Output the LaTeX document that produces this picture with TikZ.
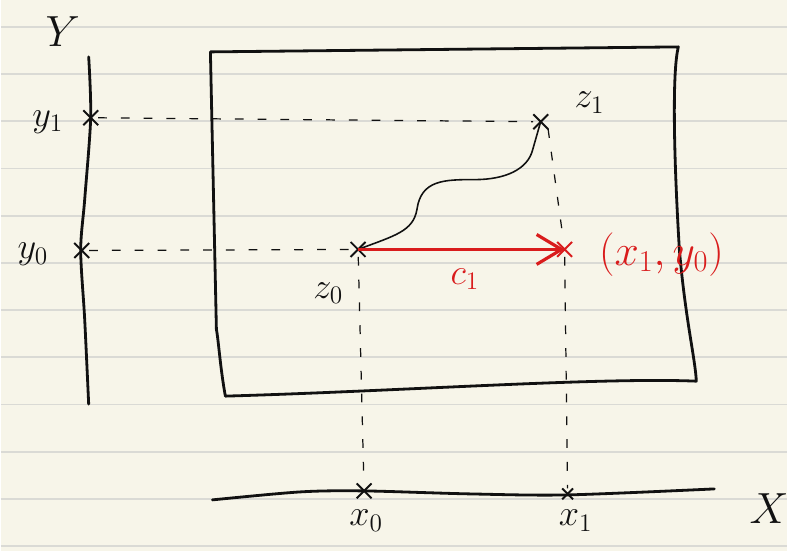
\documentclass[tikz,border=0pt]{standalone}
\usepackage{amsmath}
\usepackage{xcolor}
\usepackage{tikz}
\usetikzlibrary{arrows.meta,shapes.misc}
\definecolor{paper}{HTML}{F7F5E9}
\definecolor{ruled}{HTML}{DADAD5}
\definecolor{ink}{HTML}{111111}
\definecolor{pen}{HTML}{D91C1C}

\begin{document}
\begin{tikzpicture}[x=0.02cm,y=-0.02cm,
  cross/.style={cross out,draw=ink,line width=1.1pt,minimum size=0.26cm,inner sep=0pt},
  lbl/.style={font=\fontsize{22}{26}\selectfont,text=ink},
  axis/.style={ink,line width=1.6pt,line cap=round,line join=round},
  guide/.style={ink,line width=0.7pt,dash pattern=on 5pt off 8pt}]
% paper
\fill[paper] (0,0) rectangle (788,552);
\foreach \k in {0,...,11}
  \draw[ruled,line width=1pt] (0,27+47.3*\k) -- (788,27+47.3*\k);
\useasboundingbox (0,0) rectangle (788,552);

% axes
\draw[axis] plot[smooth] coordinates {(88,57) (90,118) (84,200) (80,251) (84,320) (88,405)};
\draw[axis] plot[smooth] coordinates {(212,501) (300,493) (364,492) (470,495) (568,496) (715,490)};
\node[lbl,font=\fontsize{26}{30}\selectfont] (ylab) at (62,32) {$Y$};
\node[lbl,font=\fontsize{26}{30}\selectfont] (xlab) at (770,510) {$X$};

% region
\draw[axis] (210,52) -- (679,47) .. controls (673,70) and (674,150) .. (680,250)
  .. controls (686,320) and (696,360) .. (697,382)
  .. controls (600,378) and (400,392) .. (225,397)
  .. controls (220,370) and (218,340) .. (216,330) -- (210,52);

% points
\node[cross] (y1) at (90,118) {};
\node[cross] (y0) at (81,251) {};
\node[cross] (z0) at (358,250) {};
\node[cross] (z1) at (541,122) {};
\node[cross,draw=pen] (p) at (565,250) {};
\node[cross] (x0) at (364,492) {};
\node[cross,minimum size=0.18cm] (x1) at (568,495) {};

% labels
\node[lbl] at (47,122) {$y_1$};
\node[lbl] at (32,255) {$y_0$};
\node[lbl] at (328,294) {$z_0$};
\node[lbl] at (590,103) {$z_1$};
\node[lbl] at (366,522) {$x_0$};
\node[lbl] at (576,522) {$x_1$};
\node[lbl,text=pen] at (465,280) {$c_1$};
\node[lbl,text=pen,font=\fontsize{27}{32}\selectfont] at (662,255) {$(x_1,y_0)$};

% guides
\draw[guide] (y1) -- (z1);
\draw[guide] (y0) -- (z0);
\draw[guide] (z0) -- (x0);
\draw[guide] (z1.south east) -- (p) -- (x1);

% path from z0 to z1
\draw[ink,line width=0.9pt] (z0.center) .. controls (395,236) and (413,232) .. (417,210)
  .. controls (421,180) and (445,180) .. (475,180)
  .. controls (505,180) and (528,170) .. (533,150) -- (z1.center);

% c1
\draw[pen,line width=1.8pt,-{Straight Barb[length=0.5cm,width=0.6cm,line width=1.8pt]}] (z0.center) -- (p.center);
\end{tikzpicture}
\end{document}
